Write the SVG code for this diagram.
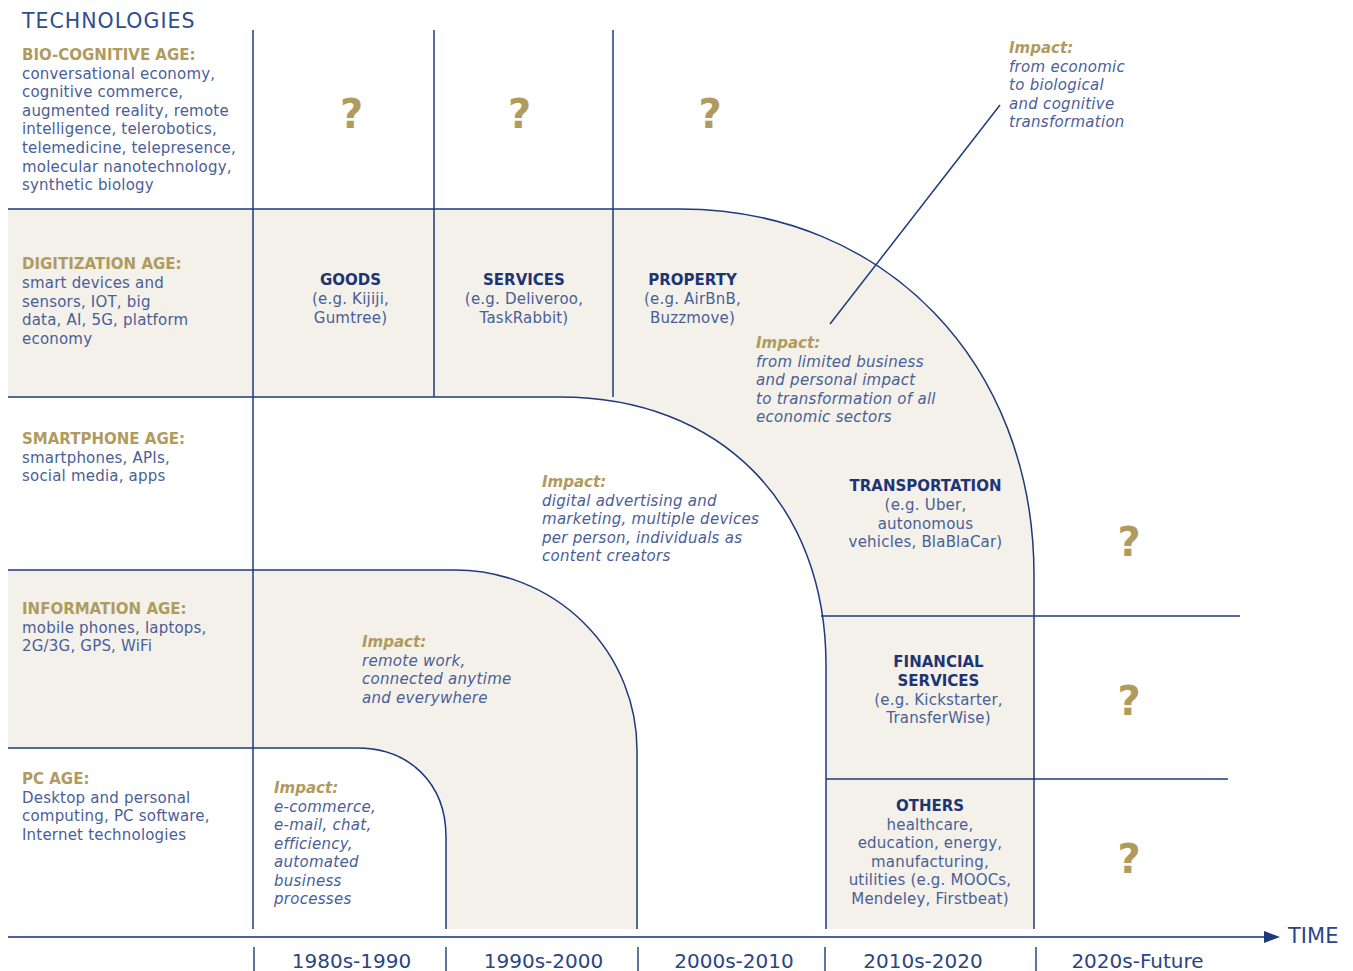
<svg xmlns="http://www.w3.org/2000/svg" width="1353" height="971" viewBox="0 0 1353 971">
<defs>
<style>
text{font-family:"DejaVu Sans","Liberation Sans",sans-serif;}
.b{font-size:15px;fill:#4a5e98;letter-spacing:0.2px;}
.h{font-size:15px;font-weight:bold;fill:#b09b5e;}
.n{font-size:15px;font-weight:bold;fill:#1f3573;}
.i{font-size:15px;font-style:italic;fill:#4a5e98;letter-spacing:0.28px;}
.ih{font-size:15px;font-style:italic;font-weight:bold;fill:#b09b5e;}
.q{font-size:40px;font-weight:bold;fill:#b09b5e;text-anchor:middle;}
.c{text-anchor:middle;}
.ax{font-size:20px;fill:#2a4585;text-anchor:middle;}
.ln{fill:none;stroke:#1e3a7d;stroke-width:1.5;}
.fill{fill:#f3f1e9;stroke:none;}
</style>
<marker id="arr" markerWidth="16" markerHeight="12" refX="0" refY="6" orient="auto" markerUnits="userSpaceOnUse">
<path d="M0,0 L16,6 L0,12 Z" fill="#1e3a7d"/>
</marker>
</defs>
<rect width="1353" height="971" fill="#ffffff"/>

<g id="bands">
<path class="fill" d="M8,209 H680 C885,209 1034,363 1034,575 V929 H826 V665 C826,504 720,397 560,397 H8 Z"/>
<path class="fill" d="M8,570 H455 A182,180 0 0 1 637,750 V929 H446 V837 C446,784 410,748 357,748 H8 Z"/>
</g>

<g id="connectors">
<path class="ln" d="M8,209 H680 C885,209 1034,363 1034,575 V929"/>
<path class="ln" d="M8,397 H560 C720,397 826,504 826,665 V929"/>
<path class="ln" d="M8,570 H455 A182,180 0 0 1 637,750 V929"/>
<path class="ln" d="M8,748 H357 C410,748 446,784 446,837 V929"/>
<path class="ln" d="M253,30 V929"/>
<path class="ln" d="M434,30 V397"/>
<path class="ln" d="M613,30 V397"/>
<path class="ln" d="M821,616 H1240"/>
<path class="ln" d="M826,779 H1228"/>
<path class="ln" d="M830,324 L1000,105"/>
</g>

<g id="axis">
<path d="M8,937 H1264" stroke="#4a62a0" stroke-width="2.2" fill="none" marker-end="url(#arr)"/>
<g stroke="#2a4585" stroke-width="1.5">
<path d="M254,947 V971"/>
<path d="M446,947 V971"/>
<path d="M638,947 V971"/>
<path d="M825,947 V971"/>
<path d="M1036,947 V971"/>
</g>
<text x="1288" y="943" style="font-size:21px;fill:#2a4585;">TIME</text>
<text class="ax" x="351.5" y="968">1980s-1990</text>
<text class="ax" x="543.5" y="968">1990s-2000</text>
<text class="ax" x="734" y="968">2000s-2010</text>
<text class="ax" x="923" y="968">2010s-2020</text>
<text class="ax" x="1137.5" y="968">2020s-Future</text>
</g>

<g id="title">
<text x="22" y="28" style="font-size:20.5px;letter-spacing:1px;fill:#2f4d8c;">TECHNOLOGIES</text>
</g>

<g id="bio-cognitive-age">
<text class="h" x="22" y="60">BIO-COGNITIVE AGE:</text>
<text class="b" x="22" y="78.5">conversational economy,</text>
<text class="b" x="22" y="97">cognitive commerce,</text>
<text class="b" x="22" y="115.8">augmented reality, remote</text>
<text class="b" x="22" y="134.4">intelligence, telerobotics,</text>
<text class="b" x="22" y="153">telemedicine, telepresence,</text>
<text class="b" x="22" y="171.6">molecular nanotechnology,</text>
<text class="b" x="22" y="190.2">synthetic biology</text>
</g>

<g id="digitization-age">
<text class="h" x="22" y="269">DIGITIZATION AGE:</text>
<text class="b" x="22" y="288">smart devices and</text>
<text class="b" x="22" y="306.5">sensors, IOT, big</text>
<text class="b" x="22" y="325">data, AI, 5G, platform</text>
<text class="b" x="22" y="343.5">economy</text>
</g>

<g id="smartphone-age">
<text class="h" x="22" y="444">SMARTPHONE AGE:</text>
<text class="b" x="22" y="462.5">smartphones, APIs,</text>
<text class="b" x="22" y="481">social media, apps</text>
</g>

<g id="information-age">
<text class="h" x="22" y="614">INFORMATION AGE:</text>
<text class="b" x="22" y="632.5">mobile phones, laptops,</text>
<text class="b" x="22" y="651">2G/3G, GPS, WiFi</text>
</g>

<g id="pc-age">
<text class="h" x="22" y="784">PC AGE:</text>
<text class="b" x="22" y="802.5">Desktop and personal</text>
<text class="b" x="22" y="821">computing, PC software,</text>
<text class="b" x="22" y="839.5">Internet technologies</text>
</g>

<g id="questions-top">
<text class="q" x="351.5" y="128">?</text>
<text class="q" x="519.5" y="128">?</text>
<text class="q" x="710" y="128">?</text>
</g>

<g id="goods">
<text class="n c" x="350.5" y="285">GOODS</text>
<text class="b c" x="350.5" y="304">(e.g. Kijiji,</text>
<text class="b c" x="350.5" y="322.5">Gumtree)</text>
</g>

<g id="services">
<text class="n c" x="524" y="285">SERVICES</text>
<text class="b c" x="524" y="304">(e.g. Deliveroo,</text>
<text class="b c" x="524" y="322.5">TaskRabbit)</text>
</g>

<g id="property">
<text class="n c" x="692.5" y="285">PROPERTY</text>
<text class="b c" x="692.5" y="304">(e.g. AirBnB,</text>
<text class="b c" x="692.5" y="322.5">Buzzmove)</text>
</g>

<g id="impact-bio">
<text class="ih" x="1009" y="53">Impact:</text>
<text class="i" x="1009" y="71.5">from economic</text>
<text class="i" x="1009" y="90">to biological</text>
<text class="i" x="1009" y="108.5">and cognitive</text>
<text class="i" x="1009" y="127">transformation</text>
</g>

<g id="impact-digitization">
<text class="ih" x="756" y="348">Impact:</text>
<text class="i" x="756" y="366.5">from limited business</text>
<text class="i" x="756" y="385">and personal impact</text>
<text class="i" x="756" y="403.5">to transformation of all</text>
<text class="i" x="756" y="422">economic sectors</text>
</g>

<g id="impact-smartphone">
<text class="ih" x="542" y="487">Impact:</text>
<text class="i" x="542" y="505.5">digital advertising and</text>
<text class="i" x="542" y="524">marketing, multiple devices</text>
<text class="i" x="542" y="542.5">per person, individuals as</text>
<text class="i" x="542" y="561">content creators</text>
</g>

<g id="impact-information">
<text class="ih" x="362" y="647">Impact:</text>
<text class="i" x="362" y="665.5">remote work,</text>
<text class="i" x="362" y="684">connected anytime</text>
<text class="i" x="362" y="702.5">and everywhere</text>
</g>

<g id="impact-pc">
<text class="ih" x="274" y="793">Impact:</text>
<text class="i" x="274" y="811.5">e-commerce,</text>
<text class="i" x="274" y="830">e-mail, chat,</text>
<text class="i" x="274" y="848.5">efficiency,</text>
<text class="i" x="274" y="867">automated</text>
<text class="i" x="274" y="885.5">business</text>
<text class="i" x="274" y="904">processes</text>
</g>

<g id="transportation">
<text class="n c" x="925.5" y="491">TRANSPORTATION</text>
<text class="b c" x="925.5" y="510">(e.g. Uber,</text>
<text class="b c" x="925.5" y="528.5">autonomous</text>
<text class="b c" x="925.5" y="547">vehicles, BlaBlaCar)</text>
</g>

<g id="financial-services">
<text class="n c" x="938.5" y="667">FINANCIAL</text>
<text class="n c" x="938.5" y="686">SERVICES</text>
<text class="b c" x="938.5" y="704.5">(e.g. Kickstarter,</text>
<text class="b c" x="938.5" y="723">TransferWise)</text>
</g>

<g id="others">
<text class="n c" x="930" y="811">OTHERS</text>
<text class="b c" x="930" y="829.5">healthcare,</text>
<text class="b c" x="930" y="848">education, energy,</text>
<text class="b c" x="930" y="866.5">manufacturing,</text>
<text class="b c" x="930" y="885">utilities (e.g. MOOCs,</text>
<text class="b c" x="930" y="903.5">Mendeley, Firstbeat)</text>
</g>

<g id="questions-right">
<text class="q" x="1129" y="556">?</text>
<text class="q" x="1129" y="715">?</text>
<text class="q" x="1129" y="873">?</text>
</g>
</svg>
